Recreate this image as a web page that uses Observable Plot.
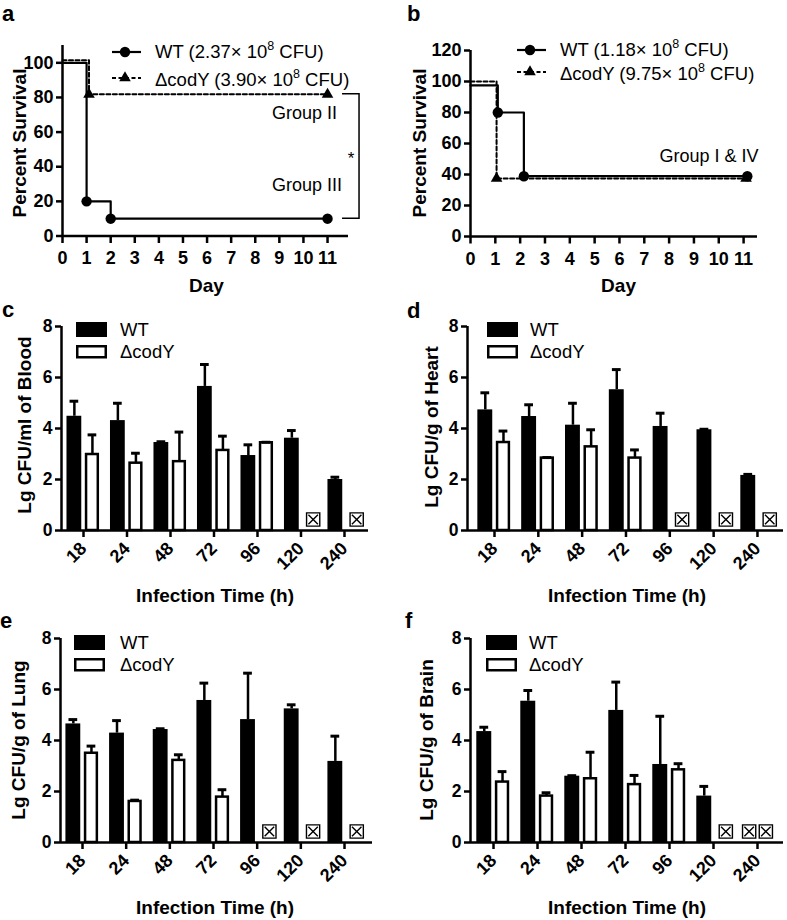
<!DOCTYPE html>
<html><head><meta charset="utf-8">
<script src="https://cdn.jsdelivr.net/npm/d3@7"></script>
<script src="https://cdn.jsdelivr.net/npm/@observablehq/plot@0.6"></script>
<style>
body{margin:0;background:#fff;}
#fig{position:relative;width:787px;height:920px;background:#fff;font-family:"Liberation Sans",Arial,Helvetica,sans-serif;}
#fig g[aria-label$="tick label"]{font-weight:bold;}
</style></head><body><div id="fig"></div>
<script>
// ---------------- data ----------------
// Panel a: survival (Group II / III)
const aWTDay = [0, 1, 2, 11];
const aWTSurv = [100, 20, 10, 10];
const aCodYDay = [0, 1.1, 11];
const aCodYSurv = [101.5, 81.8, 81.8];
const aLegend = ["WT (2.37\u00d7 10^8 CFU)", "\u0394codY (3.90\u00d7 10^8 CFU)"];
const aGroups = ["Group II", "Group III"];
// Panel b: survival (Group I & IV)
const bWTDay = [0, 1.1, 2.15, 11.15];
const bWTSurv = [97.5, 80, 38.9, 38.9];
const bCodYDay = [0, 1.05, 11.1];
const bCodYSurv = [100, 37.5, 37.5];
const bLegend = ["WT (1.18\u00d7 10^8 CFU)", "\u0394codY (9.75\u00d7 10^8 CFU)"];
const bGroups = ["Group I & IV"];
const dayTicks = [0, 1, 2, 3, 4, 5, 6, 7, 8, 9, 10, 11];
const survTicksA = [0, 20, 40, 60, 80, 100];
const survTicksB = [0, 20, 40, 60, 80, 100, 120];

// Panels c-f: bacterial load (Lg CFU), mean and SEM; null = not detected
const times = ["18", "24", "48", "72", "96", "120", "240"];
const cfuTicks = [0, 2, 4, 6, 8];
const bloodWT     = [4.48, 4.31, 3.45, 5.65, 2.94, 3.62, 2.00];
const bloodWTSem  = [0.59, 0.68, 0.03, 0.86, 0.42, 0.30, 0.09];
const bloodCY     = [2.98, 2.64, 2.70, 3.14, 3.44, null, null];
const bloodCYSem  = [0.77, 0.39, 1.16, 0.56, 0.02, null, null];
const heartWT     = [4.73, 4.47, 4.13, 5.52, 4.08, 3.95, 2.16];
const heartWTSem  = [0.67, 0.46, 0.86, 0.79, 0.52, 0.02, 0.04];
const heartCY     = [3.45, 2.84, 3.28, 2.84, null, null, null];
const heartCYSem  = [0.45, 0.02, 0.67, 0.32, null, null, null];
const lungWT      = [4.65, 4.29, 4.43, 5.57, 4.82, 5.24, 3.18];
const lungWTSem   = [0.17, 0.49, 0.03, 0.68, 1.82, 0.16, 0.99];
const lungCY      = [3.50, 1.61, 3.22, 1.78, null, null, null];
const lungCYSem   = [0.28, 0.05, 0.22, 0.29, null, null, null];
const brainWT     = [4.35, 5.54, 2.60, 5.18, 3.06, 1.82, null];
const brainWTSem  = [0.17, 0.42, 0.02, 1.11, 1.89, 0.38, null];
const brainCY     = [2.37, 1.82, 2.50, 2.27, 2.85, null, null];
const brainCYSem  = [0.41, 0.13, 1.04, 0.36, 0.24, null, null];
const seriesNames = ["WT", "\u0394codY"];

// ---------------- helpers ----------------
const ff = '"Liberation Sans", Arial, Helvetica, sans-serif';
const fig = document.getElementById("fig");
const baseStyle = {fontFamily: ff, fontSize: "17px", background: "transparent", overflow: "visible", color: "black"};

function place(svg, left, top) {
  svg.style.position = "absolute";
  svg.style.left = left + "px";
  svg.style.top = top + "px";
  svg.style.background = "transparent";
  svg.style.overflow = "visible";
  svg.style.maxWidth = "none";
  fig.appendChild(svg);
}
function txt(g, x, y, s, o = {}) {
  const t = g.append("text").attr("x", x).attr("y", y).text(s)
    .attr("font-family", ff).attr("font-size", o.size || 18)
    .attr("font-weight", o.weight || "normal").attr("text-anchor", o.anchor || "start").attr("fill", "black");
  if (o.rotate) t.attr("x", null).attr("y", null).attr("transform", `translate(${x},${y}) rotate(${o.rotate})`);
  return t;
}
function supText(g, x, y, label) {
  const [pre, post] = label.split("^");
  const t = g.append("text").attr("x", x).attr("y", y).attr("font-family", ff).attr("font-size", 18.5)
    .attr("fill", "black").attr("text-anchor", "start").attr("font-weight", "normal");
  t.append("tspan").text(pre);
  t.append("tspan").attr("dy", -8).attr("font-size", 12.5).text(post[0]);
  t.append("tspan").attr("dy", 8).text(post.slice(1));
}
const boxX = {
  draw(ctx, size) {
    const r = Math.sqrt(size / Math.PI);
    ctx.moveTo(-r, -r); ctx.lineTo(r, -r); ctx.lineTo(r, r); ctx.lineTo(-r, r); ctx.closePath();
    const q = r * 0.72;
    ctx.moveTo(-q, -q); ctx.lineTo(q, q);
    ctx.moveTo(q, -q); ctx.lineTo(-q, q);
  }
};

// ---------------- survival panels ----------------
function survivalPanel(c) {
  const wt = c.wtDay.map((d, k) => ({day: d, s: c.wtSurv[k]}));
  const cy = c.cyDay.map((d, k) => ({day: d, s: c.cySurv[k]}));
  const plot = Plot.plot({
    width: c.width, height: c.height,
    marginLeft: c.ml, marginRight: c.mr, marginTop: c.mt, marginBottom: c.mb,
    x: {domain: c.xDomain}, y: {domain: c.yDomain},
    style: baseStyle,
    marks: [
      Plot.ruleY([0], {stroke: "black", strokeWidth: 2.5}),
      Plot.ruleX([0], {stroke: "black", strokeWidth: 2.5}),
      Plot.axisX({ticks: dayTicks, tickSize: 7.5, tickPadding: 8, strokeWidth: 2.5, fontSize: 18, fontWeight: "bold", label: null}),
      Plot.axisY({ticks: c.yTicks, tickSize: 6, tickPadding: 3, strokeWidth: 2.5, fontSize: 18, fontWeight: "bold", label: null}),
      Plot.line(cy, {x: "day", y: "s", curve: "step-after", stroke: "black", strokeWidth: 2, strokeDasharray: "4,2.5"}),
      Plot.line(wt, {x: "day", y: "s", curve: "step-after", stroke: "black", strokeWidth: 2.2}),
      Plot.dot(cy.slice(1), {x: "day", y: "s", symbol: "triangle", r: 4.3, fill: "black"}),
      Plot.dot(wt.slice(1), {x: "day", y: "s", r: 5.2, fill: "black"})
    ]
  });
  place(plot, c.left, c.top);
  const sx = plot.scale("x"), sy = plot.scale("y");
  const g = d3.select(plot).append("g");
  // panel letter & axis titles
  txt(g, c.letterX, 21, c.letter, {size: 22, weight: "bold"});
  txt(g, c.ylabX, 143, "Percent Survival", {size: 19, weight: "bold", anchor: "middle", rotate: -90});
  txt(g, (sx.apply(0) + sx.apply(11)) / 2 + 12, 292, "Day", {size: 19, weight: "bold", anchor: "middle"});
  // legend
  const L = c.legend;
  g.append("line").attr("x1", L.x0).attr("x2", L.x0 + 29).attr("y1", L.y1).attr("y2", L.y1).attr("stroke", "black").attr("stroke-width", 2.2);
  g.append("circle").attr("cx", L.x0 + 13).attr("cy", L.y1).attr("r", 5.2).attr("fill", "black");
  g.append("line").attr("x1", L.x0).attr("x2", L.x0 + 29).attr("y1", L.y2).attr("y2", L.y2).attr("stroke", "black").attr("stroke-width", 2).attr("stroke-dasharray", "4,2.5");
  g.append("path").attr("d", d3.symbol(d3.symbolTriangle, Math.PI * 4.3 * 4.3)()).attr("transform", `translate(${L.x0 + 13},${L.y2})`).attr("fill", "black");
  supText(g, L.tx, L.y1 + 6, c.legendText[0]);
  supText(g, L.tx, L.y2 + 8, c.legendText[1]);
  return {plot, sx, sy, g};
}

const A = survivalPanel({
  left: 0, top: 0, width: 390, height: 300, ml: 62, mr: 42, mt: 45, mb: 64.5,
  xDomain: [0, 11.87], yDomain: [0, 110], yTicks: survTicksA,
  wtDay: aWTDay, wtSurv: aWTSurv, cyDay: aCodYDay, cySurv: aCodYSurv,
  letter: "a", letterX: 2, ylabX: 26,
  legend: {x0: 112, y1: 52, y2: 78, tx: 155}, legendText: aLegend
});
{
  const {sx, sy, g} = A;
  const xEnd = sx.apply(aWTDay[aWTDay.length - 1]);
  const yII = sy.apply(aCodYSurv[aCodYSurv.length - 1]);
  const yIII = sy.apply(aWTSurv[aWTSurv.length - 1]);
  txt(g, xEnd + 10, yII + 25, aGroups[0], {anchor: "end"});
  txt(g, xEnd + 15, yIII - 27, aGroups[1], {anchor: "end"});
  const bx0 = xEnd + 15, bx1 = xEnd + 32;
  g.append("path").attr("d", `M${bx0},${yII}H${bx1}V${yIII}H${bx0}`).attr("fill", "none").attr("stroke", "black").attr("stroke-width", 1.5);
  txt(g, bx1 - 8, (yII + yIII) / 2 + 8, "*", {size: 17, anchor: "middle"});
}

const B = survivalPanel({
  left: 390, top: 0, width: 397, height: 300, ml: 80, mr: 30, mt: 50, mb: 64,
  xDomain: [0, 11.56], yDomain: [0, 120], yTicks: survTicksB,
  wtDay: bWTDay, wtSurv: bWTSurv, cyDay: bCodYDay, cySurv: bCodYSurv,
  letter: "b", letterX: 17, ylabX: 36,
  legend: {x0: 127, y1: 50, y2: 72, tx: 170}, legendText: bLegend
});
{
  const {sx, sy, g} = B;
  txt(g, sx.apply(bCodYDay[bCodYDay.length - 1]) + 13, sy.apply(bWTSurv[bWTSurv.length - 1]) - 14, bGroups[0], {anchor: "end"});
}

// ---------------- bar panels ----------------
function barPanel(c) {
  const rows = times.map((t, i) => ({i, t, wt: c.wt[i], wtSem: c.wtSem[i], cy: c.cy[i], cySem: c.cySem[i]}));
  const wtRows = rows.filter(d => d.wt != null);
  const cyRows = rows.filter(d => d.cy != null);
  const wc = d => d.i - 0.21, cc = d => d.i + 0.205;
  const missing = [];
  rows.forEach(d => {
    const both = d.wt == null && d.cy == null;
    if (d.wt == null) missing.push({pos: d.i - (both ? 0.19 : 0.28)});
    if (d.cy == null) missing.push({pos: d.i + (both ? 0.19 : 0.28)});
  });
  const plot = Plot.plot({
    width: c.width, height: c.height,
    marginLeft: c.ml, marginRight: c.mr, marginTop: c.mt, marginBottom: c.mb,
    x: {domain: c.xDomain}, y: {domain: [0, 8]},
    style: baseStyle,
    marks: [
      Plot.rect(wtRows, {x1: d => d.i - 0.38, x2: d => d.i - 0.04, y1: 0, y2: "wt", fill: "black"}),
      Plot.ruleX(wtRows, {x: wc, y1: "wt", y2: d => d.wt + d.wtSem, stroke: "black", strokeWidth: 2.5}),
      Plot.ruleY(wtRows, {y: d => d.wt + d.wtSem, x1: d => wc(d) - 0.1, x2: d => wc(d) + 0.1, stroke: "black", strokeWidth: 3}),
      Plot.rect(cyRows, {x1: d => d.i + 0.07, x2: d => d.i + 0.34, y1: 0, y2: "cy", fill: "white", stroke: "black", strokeWidth: 2.5}),
      Plot.ruleX(cyRows, {x: cc, y1: "cy", y2: d => d.cy + d.cySem, stroke: "black", strokeWidth: 2.5}),
      Plot.ruleY(cyRows, {y: d => d.cy + d.cySem, x1: d => cc(d) - 0.1, x2: d => cc(d) + 0.1, stroke: "black", strokeWidth: 3}),
      Plot.dot(missing, {x: "pos", y: () => 0, dy: -11, r: 6.6, symbol: boxX, fill: "white", stroke: "black", strokeWidth: 1.4}),
      Plot.ruleY([0], {stroke: "black", strokeWidth: 2.5}),
      Plot.ruleX([c.xDomain[0]], {stroke: "black", strokeWidth: 2.5}),
      Plot.axisX({ticks: d3.range(times.length), tickFormat: i => times[i], tickRotate: -45, tickSize: 7, tickPadding: 8, strokeWidth: 2.5, fontSize: 18, fontWeight: "bold", label: null}),
      Plot.axisY({ticks: cfuTicks, tickSize: 6, tickPadding: 3, strokeWidth: 2.5, fontSize: 17.5, fontWeight: "bold", label: null})
    ]
  });
  place(plot, c.left, c.top);
  const g = d3.select(plot).append("g");
  txt(g, c.letterX, c.letterY, c.letter, {size: 22, weight: "bold"});
  txt(g, c.ylabX, c.ylabY, c.ylabel, {size: 19, weight: "bold", anchor: "middle", rotate: -90});
  txt(g, c.xlabX, c.xlabY, "Infection Time (h)", {size: 19, weight: "bold", anchor: "middle"});
  const L = c.legend;
  g.append("rect").attr("x", L.x).attr("y", L.y).attr("width", 31).attr("height", 15).attr("fill", "black");
  g.append("rect").attr("x", L.x + 1.25).attr("y", L.y + 24.25).attr("width", 28.5).attr("height", 11).attr("fill", "white").attr("stroke", "black").attr("stroke-width", 2.5);
  txt(g, L.tx, L.y + 14, seriesNames[0], {size: 18.5});
  txt(g, L.tx, L.y + 36, seriesNames[1], {size: 18.5});
}

barPanel({left: 0, top: 300, width: 390, height: 300, ml: 61, mr: 22, mt: 26, mb: 70, xDomain: [-0.506, 6.552],
  wt: bloodWT, wtSem: bloodWTSem, cy: bloodCY, cySem: bloodCYSem,
  letter: "c", letterX: 2, letterY: 17, ylabel: "Lg CFU/ml of Blood", ylabX: 31, ylabY: 125, xlabX: 215, xlabY: 302,
  legend: {x: 76, y: 22, tx: 120}});
barPanel({left: 390, top: 300, width: 397, height: 300, ml: 77, mr: 4, mt: 26, mb: 70, xDomain: [-0.616, 6.594],
  wt: heartWT, wtSem: heartWTSem, cy: heartCY, cySem: heartCYSem,
  letter: "d", letterX: 17, letterY: 18, ylabel: "Lg CFU/g of Heart", ylabX: 48, ylabY: 127, xlabX: 237, xlabY: 302,
  legend: {x: 97, y: 22, tx: 140}});
barPanel({left: 0, top: 600, width: 390, height: 320, ml: 60, mr: 18, mt: 38, mb: 78, xDomain: [-0.504, 6.641],
  wt: lungWT, wtSem: lungWTSem, cy: lungCY, cySem: lungCYSem,
  letter: "e", letterX: 0, letterY: 28, ylabel: "Lg CFU/g of Lung", ylabX: 25, ylabY: 140, xlabX: 215, xlabY: 314,
  legend: {x: 74, y: 35, tx: 120}});
barPanel({left: 390, top: 600, width: 397, height: 320, ml: 80, mr: 4, mt: 38, mb: 78, xDomain: [-0.523, 6.591],
  wt: brainWT, wtSem: brainWTSem, cy: brainCY, cySem: brainCYSem,
  letter: "f", letterX: 15, letterY: 28, ylabel: "Lg CFU/g of Brain", ylabX: 43, ylabY: 140, xlabX: 237, xlabY: 314,
  legend: {x: 96, y: 35, tx: 139}});
</script></body></html>
